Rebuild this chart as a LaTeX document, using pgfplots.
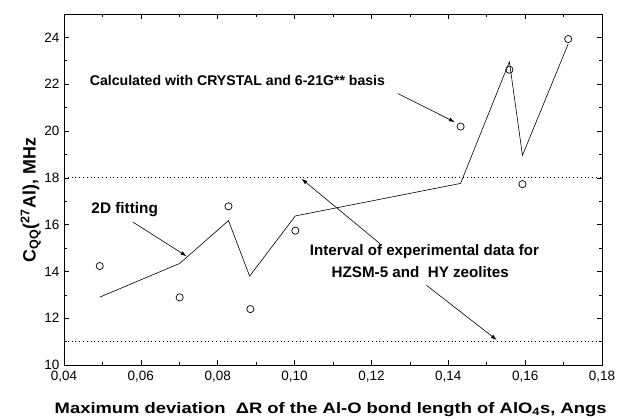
\documentclass[border=0pt]{standalone}
\usepackage{pgfplots}
\pgfplotsset{compat=1.18}
\usepackage{fontspec}
\setmainfont{Liberation Sans}
\usetikzlibrary{arrows.meta}
\begin{document}
\begin{tikzpicture}
\useasboundingbox (-64pt,-53pt) rectangle (553pt,365pt);
\begin{axis}[
  at={(0pt,0pt)}, anchor=south west,
  scale only axis, width=538pt, height=351pt,
  xmin=0.04, xmax=0.18, ymin=10, ymax=25,
  xtick={0.04,0.06,...,0.18},
  minor xtick={0.05,0.07,...,0.17},
  ytick={10,12,...,24},
  minor ytick={11,13,...,25},
  tick align=inside,
  major tick length=5pt, minor tick length=3pt,
  every tick/.style={black, line width=0.6pt},
  axis line style={line width=0.9pt},
  xticklabel style={yshift=-3pt, /pgf/number format/fixed, /pgf/number format/fixed zerofill, /pgf/number format/precision=2, /pgf/number format/use comma},
  yticklabel style={xshift=-1pt},
  /pgf/number format/assume math mode=true,
  tick label style={font=\fontsize{13.5}{15}\selectfont},
  xlabel={\resizebox{552pt}{11pt}{\textbf{Maximum deviation\ \ ΔR of the Al-O bond length of AlO\textsubscript{4}s, Angs}}},
  ylabel={\resizebox{124pt}{!}{\textbf{C\textsubscript{QQ}(\textsuperscript{27}Al), MHz}}},
  xlabel style={font=\fontsize{16}{18}\selectfont, at={(axis description cs:0.4957,-0.1368)}, anchor=base},
  ylabel style={font=\fontsize{15}{18}\selectfont, at={(axis description cs:-0.0619,0.470)}, anchor=center},
  clip=false,
]
% dotted interval lines
\addplot[black, line width=0.8pt, dash pattern=on 0.8pt off 3pt] coordinates {(0.04,18) (0.18,18)};
\addplot[black, line width=0.8pt, dash pattern=on 0.8pt off 3pt] coordinates {(0.04,11) (0.18,11)};
% 2D fitting line
\addplot[black, line width=0.6pt, mark=none] coordinates {
 (0.0493,12.90) (0.0701,14.34) (0.0828,16.17) (0.0883,13.80) (0.1002,16.37)
 (0.1432,17.76) (0.1559,22.96) (0.1593,18.96) (0.1712,23.72)};
% calculated points
\addplot[only marks, mark=o, mark size=3.6pt, black, mark options={line width=0.7pt, fill=white}] coordinates {
 (0.0493,14.23) (0.0701,12.89) (0.0828,16.78) (0.0885,12.39) (0.1002,15.74)
 (0.1432,20.19) (0.1559,22.62) (0.1593,17.73) (0.1712,23.93)};
% annotations
\node[font=\bfseries\fontsize{15}{16}\selectfont, anchor=base west, inner sep=0pt] at (axis cs:0.0467,21.95) {\resizebox{295pt}{!}{Calculated with CRYSTAL and 6-21G** basis}};
\draw[-{Latex[length=6pt,width=4pt]}, line width=0.6pt] (axis cs:0.1269,21.60) -- (axis cs:0.1417,20.38);
\node[font=\bfseries\fontsize{15}{16}\selectfont, anchor=base west, inner sep=0pt] at (axis cs:0.0471,16.47) {\resizebox{66.5pt}{!}{2D fitting}};
\draw[-{Latex[length=6pt,width=4pt]}, line width=0.6pt] (axis cs:0.0579,16.11) -- (axis cs:0.0719,14.65);
\node[font=\bfseries\fontsize{15}{16}\selectfont, anchor=base, inner sep=0pt] at (axis cs:0.1338,14.69) {\resizebox{229pt}{!}{Interval of experimental data for}};
\node[font=\bfseries\fontsize{15}{16}\selectfont, anchor=base, inner sep=0pt] at (axis cs:0.1327,13.74) {\resizebox{177pt}{!}{HZSM-5 and\ \ HY zeolites}};
\draw[-{Latex[length=6pt,width=4pt]}, line width=0.6pt] (axis cs:0.1222,15.19) -- (axis cs:0.1018,17.96);
\draw[-{Latex[length=6pt,width=4pt]}, line width=0.6pt] (axis cs:0.1343,13.41) -- (axis cs:0.1526,11.07);
\end{axis}
\end{tikzpicture}
\end{document}
